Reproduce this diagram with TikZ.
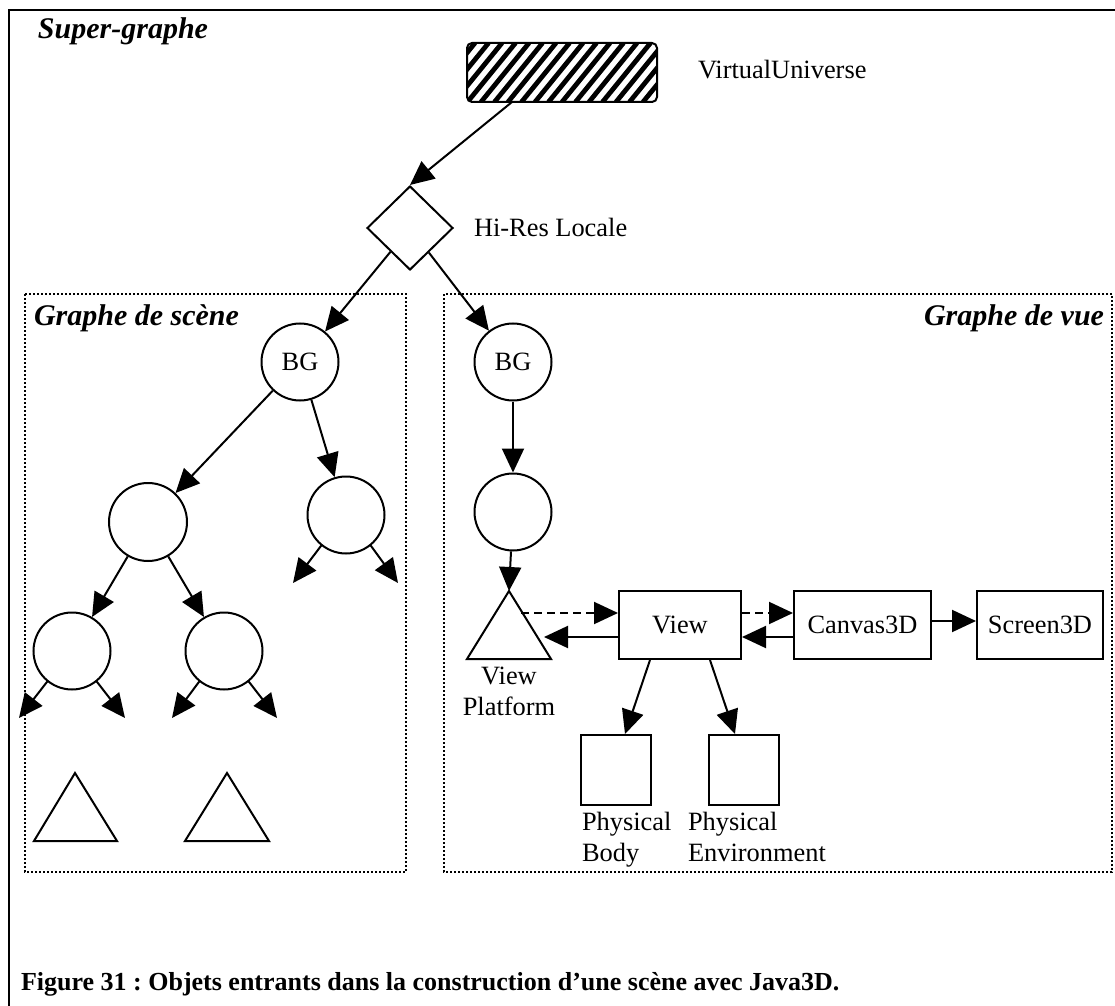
\documentclass[tikz,border=0pt]{standalone}
\usepackage{fontspec}
\setmainfont{Liberation Serif}
\usetikzlibrary{arrows.meta,shapes.geometric}
\frenchspacing

\begin{document}
\begin{tikzpicture}[x=0.5pt,y=-0.5pt,
  font=\fontsize{13.2}{15.5}\selectfont,
  line width=1pt,
  arr/.style={-{Triangle[length=12pt,width=11pt]}},
  dasharr/.style={arr, dash pattern=on 4pt off 2.5pt},
  ring/.style={draw,circle,inner sep=0pt},
  obj/.style={draw,rectangle,inner sep=0pt},
  area/.style={draw, line width=1pt, dash pattern=on 1pt off 1pt},
  title/.style={font=\fontsize{15}{18}\selectfont\bfseries\itshape, inner sep=0pt},
  lbl/.style={inner sep=0pt}
]
\useasboundingbox (0,0) rectangle (1115,1006);

% outer frame (open on the right and at the bottom)
\draw[line width=1.2pt] (1115,10) -- (9,10) -- (9,1006);

% dotted areas
\draw[area] (25,294) rectangle (406,872);
\draw[area] (444,294) rectangle (1112,872);

% titles
\node[title, anchor=west] (tsuper) at (37,31) {Super-graphe};
\node[title, anchor=west] (tscene) at (33,318) {Graphe de scène};
\node[title, anchor=east] (tvue) at (1105,318) {Graphe de vue};

% virtual universe: hatched rounded box
\begin{scope}
  \clip[rounded corners=2.5pt] (467,43) rectangle (657,102);
  \foreach \x in {400,413.5,...,680} \draw[line width=2.4pt] (\x,102) -- ++(48,-59);
\end{scope}
\node[obj, rounded corners=2.5pt, minimum width=95pt, minimum height=29.5pt] (vu) at (562,72.5) {};
\node[lbl, anchor=west] (vulabel) at (697,70) {VirtualUniverse};
\coordinate (vuOut) at (512,102);

% hi-res locale
\node[draw, diamond, inner sep=0pt, minimum width=43pt, minimum height=42pt] (hr) at (410,228) {};
\node[lbl, anchor=west] (hrlabel) at (473,227) {Hi-Res Locale};

% scene graph
\node[ring, minimum size=38.5pt] (bgL) at (300,362) {BG};
\node[ring, minimum size=39pt] (cL) at (148,522) {};
\node[ring, minimum size=38.5pt] (cR) at (346,515) {};
\node[ring, minimum size=38.5pt] (gL) at (72,651) {};
\node[ring, minimum size=38.5pt] (gR) at (224,651) {};
\coordinate (cRa) at (293,583);
\coordinate (cRb) at (398,583);
\coordinate (gLa) at (19,718);
\coordinate (gLb) at (125,718);
\coordinate (gRa) at (172,718);
\coordinate (gRb) at (277,718);
\draw (34,841) -- (75,773) -- (117,841) -- cycle;
\draw (185,841) -- (227,773) -- (269,841) -- cycle;

% view graph
\node[ring, minimum size=38.5pt] (bgR) at (513,362) {BG};
\node[ring, minimum size=38.5pt] (cV) at (513,512) {};
\draw (467,659) -- (509,591) -- (551,659) -- cycle;
\coordinate (vpTop) at (509,591);
\coordinate (vpIn) at (521,613);
\coordinate (vpOut) at (544,637);
\node[lbl, align=center] (vplabel) at (509,691) {View\\Platform};
\node[obj, minimum width=61pt, minimum height=34pt] (view) at (680,625) {View};
\node[obj, minimum width=68.5pt, minimum height=34pt] (canvas) at (862.5,625) {Canvas3D};
\node[obj, minimum width=63pt, minimum height=34pt] (screen) at (1040,625) {Screen3D};
\node[obj, minimum width=35pt, minimum height=35pt] (pb) at (616,770) {};
\node[obj, minimum width=35pt, minimum height=35pt] (pe) at (744,770) {};
\node[lbl, align=left, anchor=north west] (pblabel) at (581,811) {Physical\\Body};
\node[lbl, align=left, anchor=north west] (pelabel) at (687,811) {Physical\\Environment};

% connectors
\draw[arr] (vuOut) -- (hr.north);
\draw[arr] (hr) -- (bgL);
\draw[arr] (hr) -- (bgR);
\draw[arr] (bgL) -- (cL);
\draw[arr] (bgL) -- (cR);
\draw[arr] (cL) -- (gL);
\draw[arr] (cL) -- (gR);
\draw[arr] (cR.231) -- (cRa);
\draw[arr] (cR.309) -- (cRb);
\draw[arr] (gL.231) -- (gLa);
\draw[arr] (gL.309) -- (gLb);
\draw[arr] (gR.231) -- (gRa);
\draw[arr] (gR.309) -- (gRb);
\draw[arr] (bgR) -- (cV);
\draw[arr] (cV) -- (vpTop);
\draw[dasharr] (vpIn) -- ([yshift=6pt]view.west);
\draw[arr] ([yshift=-6pt]view.west) -- (vpOut);
\draw[dasharr] ([yshift=6pt]view.east) -- ([yshift=6pt]canvas.west);
\draw[arr] ([yshift=-6pt]canvas.west) -- ([yshift=-6pt]view.east);
\draw[arr] ([yshift=2pt]canvas.east) -- ([yshift=2pt]screen.west);
\draw[arr] ([xshift=-15pt]view.south) -- ([xshift=4.5pt]pb.north);
\draw[arr] ([xshift=15pt]view.south) -- ([xshift=-4.5pt]pe.north);

% caption
\node[anchor=base west, inner sep=0pt, font=\fontsize{13}{15}\selectfont\bfseries] (cap) at (20,990) {Figure 31 : Objets entrants dans la construction d’une scène avec Java3D.};
\end{tikzpicture}
\end{document}
